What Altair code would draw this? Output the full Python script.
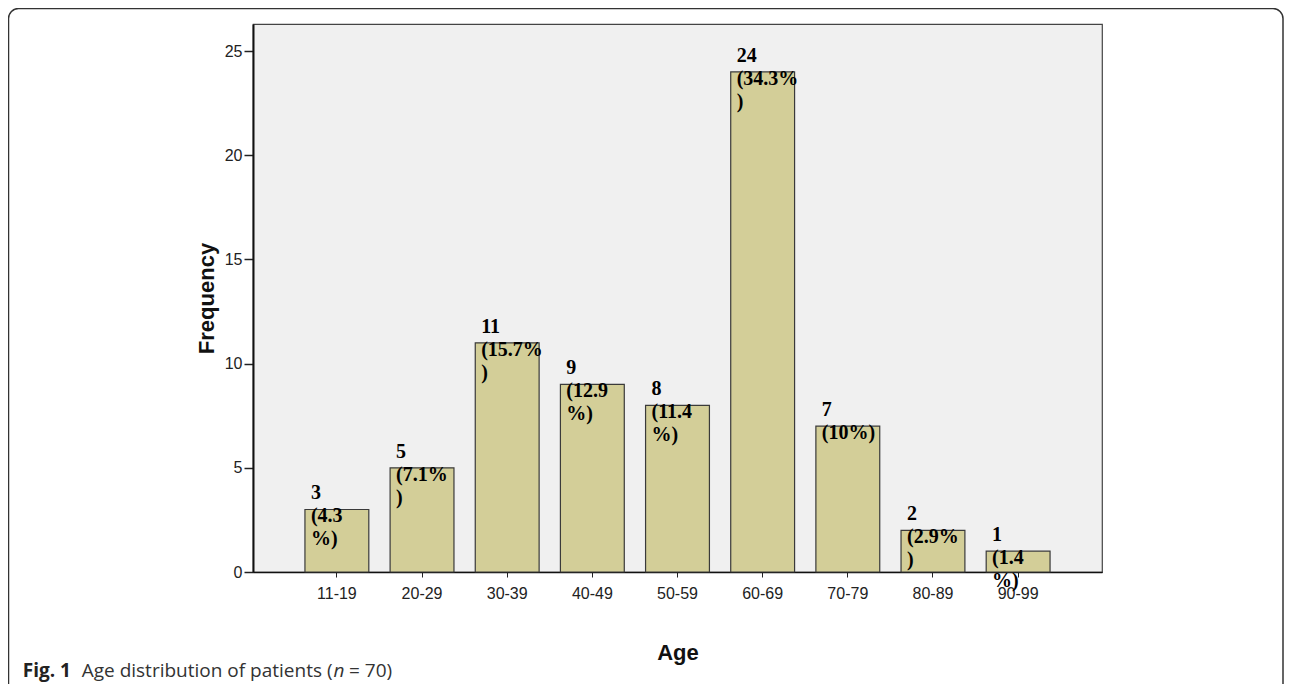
import altair as alt
import pandas as pd

ages = ["11-19", "20-29", "30-39", "40-49", "50-59", "60-69", "70-79", "80-89", "90-99"]
freqs = [3, 5, 11, 9, 8, 24, 7, 2, 1]
labels = ["3\n(4.3\n%)", "5\n(7.1%\n)", "11\n(15.7%\n)", "9\n(12.9\n%)", "8\n(11.4\n%)",
          "24\n(34.3%\n)", "7\n(10%)", "2\n(2.9%\n)", "1\n(1.4\n%)"]
y_ticks = [0, 5, 10, 15, 20, 25]

df = pd.DataFrame({"age": ages, "freq": freqs, "label": labels})
one = pd.DataFrame({"k": [0]})

W, H = 849, 548

xenc = alt.X("age:N", sort=ages, title="Age",
             scale=alt.Scale(paddingInner=0.25, paddingOuter=0.61),
             axis=alt.Axis(labelAngle=0, labelFont="Liberation Sans", labelFontSize=16,
                           labelColor="#222", labelPadding=8, tickSize=5, tickColor="#222",
                           domainColor="#111", domainWidth=1.5,
                           titleFont="Liberation Sans", titleFontSize=22, titleFontWeight="bold",
                           titleColor="#111", titleX=W / 2, titleY=87, titleBaseline="alphabetic",
                           titleAlign="center"))
yenc = alt.Y("freq:Q", title="Frequency",
             scale=alt.Scale(domain=[0, 26.3], nice=False),
             axis=alt.Axis(values=y_ticks, grid=False, labelFont="Liberation Sans",
                           labelFontSize=16, labelColor="#222", labelPadding=2, tickSize=9,
                           tickColor="#222", tickWidth=1.5, domainColor="#111", domainWidth=2,
                           titleFont="Liberation Sans", titleFontSize=22, titleFontWeight="bold",
                           titleColor="#111", titleAngle=-90, titleX=-40, titleY=H / 2,
                           titleBaseline="alphabetic", titleAlign="center"))

bars = alt.Chart(df).mark_bar(color="#d3ce98", stroke="#3a3a3a", strokeWidth=1.2).encode(
    x=xenc, y=yenc)

texts = alt.Chart(df).mark_text(align="left", baseline="alphabetic", dx=-26, dy=-10,
                                lineBreak="\n", lineHeight=23, font="Liberation Serif",
                                fontSize=20, fontWeight="bold", color="#000").encode(
    x=alt.X("age:N", sort=ages), y=alt.Y("freq:Q"), text="label:N")

frame = alt.Chart(one).mark_rect(fillOpacity=0, stroke="#333", strokeWidth=1.5,
                                 cornerRadius=10).encode(
    x=alt.value(-244.5), x2=alt.value(1030), y=alt.value(-15.5), y2=alt.value(700))

cap_y = 653
cap1 = alt.Chart(one).mark_text(align="left", baseline="alphabetic", font="Open Sans",
                                fontSize=19, fontWeight="bold", color="#222").encode(
    x=alt.value(-230.3), y=alt.value(cap_y), text=alt.value("Fig. 1"))
cap2 = alt.Chart(one).mark_text(align="left", baseline="alphabetic", font="Open Sans",
                                fontSize=19, color="#333").encode(
    x=alt.value(-171.3), y=alt.value(cap_y), text=alt.value("Age distribution of patients ("))
cap3 = alt.Chart(one).mark_text(align="left", baseline="alphabetic", font="Open Sans",
                                fontSize=19, fontStyle="italic", color="#333").encode(
    x=alt.value(80.5), y=alt.value(cap_y), text=alt.value("n"))
cap4 = alt.Chart(one).mark_text(align="left", baseline="alphabetic", font="Open Sans",
                                fontSize=19, color="#333").encode(
    x=alt.value(96), y=alt.value(cap_y), text=alt.value("= 70)"))

chart = alt.layer(bars, texts, frame, cap1, cap2, cap3, cap4).properties(
    width=W, height=H,
    autosize=alt.AutoSizeParams(type="none"),
    padding={"left": 245, "top": 16, "right": 182, "bottom": 112},
    background="white",
).configure_view(fill="#f0f0f0", stroke="#444", strokeWidth=1.2)

chart.save("out.html", embed_options={"renderer": "svg", "actions": False})
